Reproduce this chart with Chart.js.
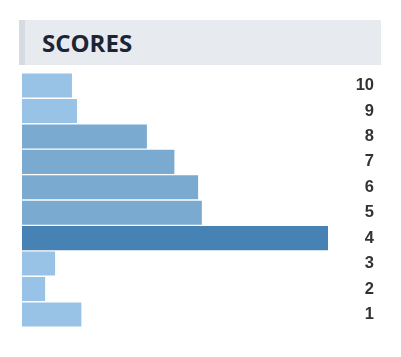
<!DOCTYPE html>
<html>
<head>
<meta charset="utf-8">
<script src="https://cdn.jsdelivr.net/npm/chart.js@4"></script>
<style>
  html, body { margin: 0; padding: 0; background: #fff; width: 401px; height: 357px; overflow: hidden; }
  #header {
    position: absolute; left: 19px; top: 20px; width: 356px; height: 45px;
    background: #e7eaef; border-left: 6px solid #d6dae1;
  }
  #header span {
    position: absolute; left: 17px; top: 8px;
    font-family: "Open Sans", sans-serif; font-weight: 700; font-size: 24px;
    color: #1b2536; line-height: 30px;
  }
  #wrap { position: absolute; left: 22px; top: 63px; width: 352px; height: 274px; }
</style>
</head>
<body>
<div id="header"><span>SCORES</span></div>
<div id="wrap"><canvas id="c"></canvas></div>
<script>
const categories = ['10', '9', '8', '7', '6', '5', '4', '3', '2', '1'];
const values = [8.0, 8.8, 20.0, 24.4, 28.2, 28.8, 49.0, 5.3, 3.7, 9.5];
const barColors = ['#99c3e6', '#99c3e6', '#7aaad0', '#7aaad0', '#7aaad0', '#7aaad0', '#4682b4', '#99c3e6', '#99c3e6', '#99c3e6'];

new Chart(document.getElementById('c'), {
  type: 'bar',
  data: {
    labels: categories,
    datasets: [{
      data: values,
      backgroundColor: barColors,
      borderWidth: 0,
      barPercentage: 0.945,
      categoryPercentage: 1.0
    }]
  },
  options: {
    indexAxis: 'y',
    responsive: true,
    maintainAspectRatio: false,
    animation: false,
    layout: { padding: 0 },
    plugins: { legend: { display: false }, tooltip: { enabled: false } },
    scales: {
      x: {
        display: false,
        min: 0,
        max: Math.max(...values)
      },
      y: {
        position: 'right',
        grid: { display: false, drawTicks: false },
        border: { display: false },
        afterFit: (axis) => { axis.width = 46; },
        ticks: {
          crossAlign: 'far',
          padding: 0,
          color: '#333333',
          font: { family: '"Liberation Sans", Arial, sans-serif', weight: 'bold', size: 16.5 }
        }
      }
    }
  }
});
</script>
</body>
</html>
